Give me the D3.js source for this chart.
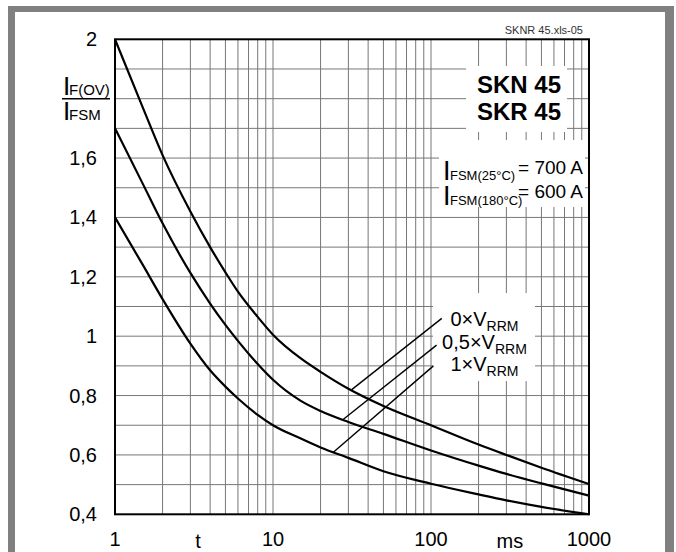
<!DOCTYPE html>
<html>
<head>
<meta charset="utf-8">
<script src="https://cdn.jsdelivr.net/npm/d3@7"></script>
<style>
  body { margin: 0; background: #fff; }
  svg { display: block; }
  text { font-family: "Liberation Sans", Arial, sans-serif; fill: #000; }
</style>
</head>
<body>
<div id="chart"></div>
<script>
// pulse duration t (ms)
const tValues = [1, 1.5, 2, 3, 4, 5, 6, 8, 10, 15, 20, 30, 50, 100, 200, 300, 500, 1000]
// I_F(OV) / I_FSM for 0, 0.5 and 1 x V_RRM
const vZero = [2.0, 1.77, 1.61, 1.42, 1.30, 1.215, 1.15, 1.065, 1.005, 0.925, 0.88, 0.823, 0.765, 0.70, 0.635, 0.60, 0.557, 0.502]
const vHalf = [1.70, 1.513, 1.38, 1.213, 1.11, 1.038, 0.984, 0.906, 0.853, 0.782, 0.748, 0.711, 0.671, 0.615, 0.564, 0.536, 0.504, 0.463]
const vFull = [1.40, 1.24, 1.125, 0.975, 0.885, 0.83, 0.79, 0.735, 0.70, 0.655, 0.625, 0.59, 0.545, 0.503, 0.467, 0.447, 0.425, 0.40]

const seriesLabels = ['0×V', '0,5×V', '1×V']
// leader lines: from a point on the curve [t, v] to [t, v]
const leaderFrom = [[31.5, 0.82], [27.9, 0.72], [24.1, 0.609]]
const leaderTo = [[117, 1.06], [108.5, 0.97], [103.6, 0.90]]
const labelAt = [[218, 1.034], [218, 0.957], [218, 0.883]]

const xTicks = [1, 10, 100, 1000]
const xUnitLabels = [{ t: 3.35, text: 't' }, { t: 316, text: 'ms' }]
const yTicks = [2, 1.6, 1.4, 1.2, 1, 0.8, 0.6, 0.4]

const width = 676
const height = 552
const plot = { left: 115, right: 589, top: 39.3, bottom: 514.3 }

const svg = d3.select('#chart').append('svg')
  .attr('width', width)
  .attr('height', height)

// grey frame round the page
svg.append('rect').attr('x', 8).attr('y', 6).attr('width', 666).attr('height', 560).attr('fill', '#808080')
svg.append('rect').attr('x', 15).attr('y', 12).attr('width', 650).attr('height', 560).attr('fill', '#fff')

const x = d3.scaleLog().domain([1, 1000]).range([plot.left, plot.right])
const y = d3.scaleLinear().domain([0.4, 2]).range([plot.bottom, plot.top])

// grid
const vGrid = []
for (const dec of [1, 10, 100]) {
  for (let k = 2; k <= 10; k++) {
    if (dec * k < 1000) vGrid.push(dec * k)
  }
}
const hGrid = d3.range(5, 20).map(d => d / 10)

const grid = svg.append('g').attr('stroke', '#777').attr('stroke-width', 1)
grid.selectAll('line.v').data(vGrid).join('line')
  .attr('class', 'v')
  .attr('x1', d => x(d)).attr('x2', d => x(d))
  .attr('y1', plot.top).attr('y2', plot.bottom)
grid.selectAll('line.h').data(hGrid).join('line')
  .attr('class', 'h')
  .attr('x1', plot.left).attr('x2', plot.right)
  .attr('y1', d => y(d)).attr('y2', d => y(d))

// white boxes behind the text blocks
const boxes = svg.append('g').attr('fill', '#fff')
boxes.append('rect').attr('x', 466).attr('y', 66).attr('width', 101).attr('height', 66)
boxes.append('rect').attr('x', 439).attr('y', 140).attr('width', 146).attr('height', 67)
boxes.append('rect').attr('x', 433).attr('y', 293).attr('width', 102).attr('height', 88)

// curves
const line = d3.line()
  .x(d => x(d[0]))
  .y(d => y(d[1]))
  .curve(d3.curveMonotoneX)

const series = [vZero, vHalf, vFull].map(vals => tValues.map((t, i) => [t, vals[i]]))
svg.append('g').selectAll('path').data(series).join('path')
  .attr('d', line)
  .attr('fill', 'none')
  .attr('stroke', '#000')
  .attr('stroke-width', 2.2)

// leader lines
svg.append('g').selectAll('line').data(leaderFrom).join('line')
  .attr('x1', d => x(d[0])).attr('y1', d => y(d[1]))
  .attr('x2', (d, i) => x(leaderTo[i][0])).attr('y2', (d, i) => y(leaderTo[i][1]))
  .attr('stroke', '#000')
  .attr('stroke-width', 1.4)

// series labels
const lab = svg.append('g').selectAll('text').data(seriesLabels).join('text')
  .attr('x', (d, i) => x(labelAt[i][0]))
  .attr('y', (d, i) => y(labelAt[i][1]))
  .attr('text-anchor', 'middle')
  .attr('font-size', 20)
lab.append('tspan').text(d => d)
lab.append('tspan').attr('dy', 5).attr('font-size', 14).text('RRM')

// plot frame
svg.append('rect')
  .attr('x', plot.left).attr('y', plot.top)
  .attr('width', plot.right - plot.left).attr('height', plot.bottom - plot.top)
  .attr('fill', 'none').attr('stroke', '#000').attr('stroke-width', 2)

// tick labels
svg.append('g').selectAll('text').data(yTicks).join('text')
  .attr('x', 97)
  .attr('y', d => y(d) + 7)
  .attr('text-anchor', 'end')
  .attr('font-size', 20)
  .text(d => String(d).replace('.', ','))

svg.append('g').selectAll('text').data(xTicks).join('text')
  .attr('x', d => x(d))
  .attr('y', 546)
  .attr('text-anchor', 'middle')
  .attr('font-size', 20)
  .text(d => d)

svg.append('g').selectAll('text').data(xUnitLabels).join('text')
  .attr('x', d => x(d.t))
  .attr('y', 548)
  .attr('text-anchor', 'middle')
  .attr('font-size', 20)
  .text(d => d.text)

// y axis title as a fraction
function bigI(sel, px, py, size) {
  sel.append('text').attr('x', px).attr('y', py).attr('font-size', size).text('I')
}
const yt = svg.append('g')
bigI(yt, 63, 95, 26)
yt.append('text').attr('x', 69).attr('y', 95).attr('font-size', 15).text('F(OV)')
yt.append('line').attr('x1', 62).attr('x2', 110).attr('y1', y(1.8)).attr('y2', y(1.8))
  .attr('stroke', '#000').attr('stroke-width', 1.5)
bigI(yt, 63, 120, 26)
yt.append('text').attr('x', 69).attr('y', 120).attr('font-size', 15).text('FSM')

// file tag
svg.append('text').attr('x', 583).attr('y', 34).attr('text-anchor', 'end')
  .attr('font-size', 11).style('fill', '#333').text('SKNR 45.xls-05')

// type names
svg.append('text').attr('x', 561).attr('y', 93).attr('text-anchor', 'end')
  .attr('font-size', 24).attr('font-weight', 'bold').text('SKN 45')
svg.append('text').attr('x', 561).attr('y', 120).attr('text-anchor', 'end')
  .attr('font-size', 24).attr('font-weight', 'bold').text('SKR 45')

// surge current ratings
const rat = svg.append('g')
bigI(rat, 443, 180, 27)
rat.append('text').attr('x', 450).attr('y', 180).attr('font-size', 13).text('FSM(25°C)')
rat.append('text').attr('x', 583).attr('y', 174).attr('text-anchor', 'end').attr('font-size', 19).text('= 700 A')
bigI(rat, 443, 205, 27)
rat.append('text').attr('x', 450).attr('y', 205).attr('font-size', 13).text('FSM(180°C)')
rat.append('text').attr('x', 583).attr('y', 198).attr('text-anchor', 'end').attr('font-size', 19).text('= 600 A')
</script>
</body>
</html>
